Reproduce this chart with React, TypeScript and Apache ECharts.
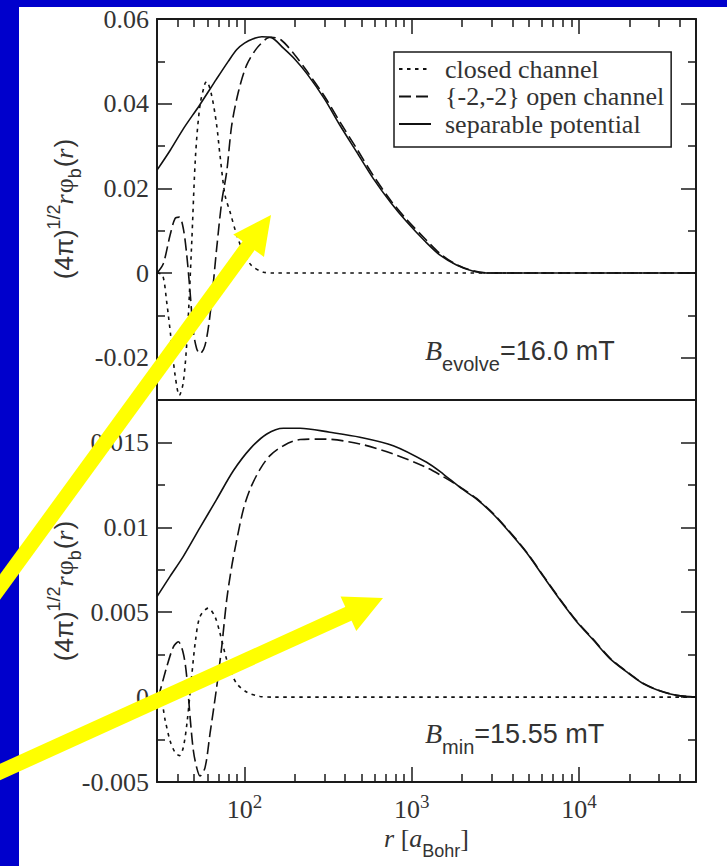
import React, { useEffect, useRef } from "react";
import * as echarts from "echarts";

// ---------- data (r in Bohr radii, values of (4pi)^1/2 r phi_b(r)) ----------
const seriesNames = ["closed channel", "{-2,-2} open channel", "separable potential"];

// top panel: B_evolve = 16.0 mT
const rClosedTop = [30, 32.4, 34.3, 36.2, 38.5, 40.8, 43.1, 45.5, 48.3, 51.0, 54.2, 58.1, 59.4, 63.6, 68.2, 71.4, 76.5, 82, 90, 98.5, 110, 130, 150, 50000];
const vClosedTop = [0.0, -0.0005, -0.0069, -0.0147, -0.0242, -0.0289, -0.0258, -0.0147, 0.0065, 0.0278, 0.0396, 0.0448, 0.0452, 0.042, 0.0349, 0.0278, 0.0184, 0.0144, 0.0089, 0.005, 0.0018, 0.0002, 0.0, 0.0];

const rOpenTop = [30, 32.7, 35.9, 38.5, 40.8, 43.1, 45.2, 47.3, 49.5, 51.8, 54.2, 58.1, 62.2, 68.2, 73.1, 78.3, 83.9, 92, 103, 118, 136, 145, 165, 200, 236, 300, 372, 470, 589, 750, 933, 1200, 1476, 1850, 2335, 2900, 50000];
const vOpenTop = [0.0, 0.0022, 0.0089, 0.0129, 0.0132, 0.0105, 0.0042, -0.0045, -0.0139, -0.0179, -0.0191, -0.0171, -0.01, 0.0058, 0.0168, 0.0239, 0.0349, 0.0428, 0.0491, 0.053, 0.0554, 0.0557, 0.0551, 0.0515, 0.0477, 0.0418, 0.0357, 0.0293, 0.023, 0.0171, 0.0126, 0.0081, 0.0046, 0.002, 0.0005, 0.0, 0.0];

const rSepTop = [30, 36, 43, 54, 68, 80, 90, 100, 112, 127, 145, 171, 200, 236, 300, 372, 470, 589, 750, 933, 1200, 1476, 1850, 2335, 2800, 50000];
const vSepTop = [0.0243, 0.0290, 0.0340, 0.0397, 0.0458, 0.0500, 0.0528, 0.0543, 0.0553, 0.0558, 0.0556, 0.0531, 0.0505, 0.0471, 0.0412, 0.0349, 0.0285, 0.0223, 0.0166, 0.0121, 0.0075, 0.0042, 0.0019, 0.0004, 0.0, 0.0];

// bottom panel: B_min = 15.55 mT
const rClosedBot = [30, 31.3, 33.6, 35.9, 38.5, 40.8, 43.1, 45.5, 48.3, 51.0, 54.2, 60.8, 66.6, 71.4, 76.5, 82, 90, 103, 124, 150, 50000];
const vClosedBot = [0.0, 0.0, -0.00138, -0.00257, -0.00326, -0.00345, -0.00296, -0.00138, 0.00118, 0.00336, 0.00474, 0.00524, 0.00474, 0.00376, 0.00257, 0.00158, 0.00079, 0.0003, 0.00004, 0.0, 0.0];

const rOpenBot = [30, 30.7, 34.3, 37.6, 40.2, 43.1, 45.2, 47.3, 49.5, 51.8, 54.2, 58.1, 62.2, 68.2, 73.1, 78.3, 83.9, 90, 98.5, 108, 124, 142, 171, 215, 300, 490, 775, 1227, 1543, 1941, 2441, 3071, 3864, 4860, 6110, 7690, 9680, 12170, 15300, 19270, 24230, 30480, 38300, 50000];
const vOpenBot = [0.0, 0.0001, 0.00178, 0.00296, 0.00326, 0.00257, 0.00118, -0.00118, -0.00316, -0.00415, -0.00464, -0.00415, -0.00217, 0.00059, 0.00296, 0.00573, 0.0077, 0.00928, 0.01106, 0.01225, 0.01343, 0.01422, 0.01481, 0.01517, 0.0152, 0.01491, 0.01432, 0.01352, 0.01298, 0.01238, 0.0117, 0.01081, 0.00972, 0.00854, 0.00715, 0.00577, 0.00448, 0.0034, 0.0023, 0.00151, 0.00081, 0.00038, 0.00011, 0.0];

const rSepBot = [30, 35.9, 43.1, 54.2, 68.2, 85.8, 108, 136, 171, 215, 324, 490, 775, 1227, 1543, 1941, 2441, 3071, 3864, 4860, 6110, 7690, 9680, 12170, 15300, 19270, 24230, 30480, 38300, 50000];
const vSepBot = [0.00592, 0.00711, 0.00829, 0.00998, 0.01165, 0.01333, 0.01462, 0.0155, 0.01584, 0.01584, 0.0156, 0.01531, 0.01481, 0.01383, 0.01314, 0.01235, 0.01166, 0.01077, 0.00968, 0.0085, 0.00711, 0.00573, 0.00444, 0.00336, 0.00227, 0.00148, 0.00079, 0.00036, 0.0001, 0.0];

// axes
const xRange = [30, 50000];
const xMajorTicks = [100, 1000, 10000];
const xMinorTicks = [40, 50, 60, 70, 80, 90, 200, 300, 400, 500, 600, 700, 800, 900, 2000, 3000, 4000, 5000, 6000, 7000, 8000, 9000, 20000, 30000, 40000];
const yTopRange = [-0.03, 0.06];
const yTopMajor = [-0.02, 0, 0.02, 0.04, 0.06];
const yTopMinor = [-0.01, 0.01, 0.03, 0.05];
const yBotRange = [-0.005, 0.0175];
const yBotMajor = [-0.005, 0, 0.005, 0.01, 0.015];
const yBotMinor = [-0.0025, 0.0025, 0.0075, 0.0125];

const annTop = "=16.0 mT";
const annTopSub = "evolve";
const annBot = "=15.55 mT";
const annBotSub = "min";

// ---------- styling ----------
const SERIF = "'Liberation Serif', 'Times New Roman', serif";
const SANS = "'Liberation Sans', Arial, sans-serif";
const TXT = "#333";
const FRAME = "#1a1a1a";
const YELLOW = "#ffff00";

const lg = (v: number) => Math.log10(v);
const LOGMIN = lg(xRange[0]);
const LOGMAX = lg(xRange[1]);
const pts = (r: number[], v: number[]) => r.map((x, i) => [lg(x), v[i]]);

const lineTypes: any[] = [[3.5, 4.5], [12, 5], "solid"];

function xAxis(grid: number, pos: string, kind: "line" | "major" | "minor" | "majorLabel") {
  const ax: any = {
    type: "value",
    gridIndex: grid,
    position: pos,
    min: LOGMIN,
    max: LOGMAX,
    splitLine: { show: false },
    axisLine: { show: kind !== "minor", onZero: false, lineStyle: { color: FRAME, width: 2 } },
    axisTick: { show: false },
    axisLabel: { show: false },
  };
  if (kind === "major" || kind === "majorLabel") {
    ax.axisTick = { show: true, inside: true, length: 15, customValues: xMajorTicks.map(lg), lineStyle: { color: FRAME, width: 1.5 } };
  }
  if (kind === "minor") {
    ax.axisTick = { show: true, inside: true, length: 8, customValues: xMinorTicks.map(lg), lineStyle: { color: FRAME, width: 1.5 } };
  }
  if (kind === "majorLabel") {
    ax.axisLabel = {
      show: true,
      margin: 10,
      customValues: xMajorTicks.map(lg),
      formatter: (v: number) => `{b|10}{s|${Math.round(v)}}`,
      rich: {
        b: { fontFamily: SERIF, fontSize: 26, lineHeight: 26, padding: [4, 0, 0, 0], verticalAlign: "top", color: TXT },
        s: { fontFamily: SERIF, fontSize: 19, lineHeight: 19, verticalAlign: "top", color: TXT },
      },
    };
    ax.name = "{ri|r}{t| [}{ri|a}{sub|Bohr}{t|]}";
    ax.nameLocation = "middle";
    ax.nameGap = 43;
    ax.nameTextStyle = {
      rich: {
        ri: { fontFamily: SERIF, fontStyle: "italic", fontSize: 26, lineHeight: 26, verticalAlign: "top", color: TXT },
        t: { fontFamily: SERIF, fontSize: 26, lineHeight: 26, verticalAlign: "top", color: TXT },
        sub: { fontFamily: SANS, fontSize: 18, lineHeight: 18, padding: [17, 0, 0, 0], verticalAlign: "top", color: TXT },
      },
    };
  }
  return ax;
}

function yAxis(grid: number, pos: string, range: number[], ticks: number[], major: boolean, labels: boolean) {
  const ax: any = {
    type: "value",
    gridIndex: grid,
    position: pos,
    min: range[0],
    max: range[1],
    splitLine: { show: false },
    axisLine: { show: major, onZero: false, lineStyle: { color: FRAME, width: 2 } },
    axisTick: { show: true, inside: true, length: major ? 15 : 8, customValues: ticks, lineStyle: { color: FRAME, width: 1.5 } },
    axisLabel: { show: false },
  };
  if (labels) {
    ax.axisLabel = {
      show: true,
      margin: 8,
      customValues: ticks,
      fontFamily: SERIF,
      fontSize: 26,
      color: TXT,
      formatter: (v: number) => String(parseFloat(Number(v).toFixed(5))),
    };
  }
  return ax;
}

function yName(yc: number) {
  return {
    type: "text",
    x: 45,
    y: yc,
    rotation: Math.PI / 2,
    z: 50,
    style: {
      text: "{p|(4π)}{sup|1/2}{ri|r}{ph|φ}{sub|b}{p|(}{ri|r}{p|)}",
      align: "center",
      verticalAlign: "top",
      rich: {
        sup: { fontFamily: SANS, fontSize: 18, lineHeight: 18, verticalAlign: "top", fill: TXT, color: TXT },
        p: { fontFamily: SANS, fontSize: 26, lineHeight: 26, padding: [6, 0, 0, 0], verticalAlign: "top", fill: TXT, color: TXT },
        ri: { fontFamily: SERIF, fontStyle: "italic", fontSize: 26, lineHeight: 26, padding: [6, 1, 0, 0], verticalAlign: "top", fill: TXT, color: TXT },
        ph: { fontFamily: SERIF, fontSize: 26, lineHeight: 26, padding: [6, 0, 0, 0], verticalAlign: "top", fill: TXT, color: TXT },
        sub: { fontFamily: SANS, fontSize: 18, lineHeight: 18, padding: [21, 1, 0, 0], verticalAlign: "top", fill: TXT, color: TXT },
      },
    },
  };
}

function annotation(x: number, y: number, sub: string, rest: string) {
  return {
    type: "text",
    x,
    y,
    z: 50,
    style: {
      text: `{B|B}{sub|${sub}}{t|${rest}}`,
      align: "left",
      verticalAlign: "top",
      rich: {
        B: { fontFamily: SERIF, fontStyle: "italic", fontSize: 28, lineHeight: 28, verticalAlign: "top", fill: TXT, color: TXT },
        sub: { fontFamily: SANS, fontSize: 20, lineHeight: 20, padding: [17, 0, 0, 0], verticalAlign: "top", fill: TXT, color: TXT },
        t: { fontFamily: SANS, fontSize: 27, lineHeight: 27, padding: [0.5, 0, 0, 0], verticalAlign: "top", fill: TXT, color: TXT },
      },
    },
  };
}

function arrow(tail: number[], tip: number[], headLen: number, headHalf: number, width: number) {
  const dx = tip[0] - tail[0];
  const dy = tip[1] - tail[1];
  const L = Math.hypot(dx, dy);
  const ux = dx / L, uy = dy / L;
  const nx = -uy, ny = ux;
  const bx = tip[0] - ux * headLen, by = tip[1] - uy * headLen;
  return [
    {
      type: "line",
      z: 100,
      shape: { x1: tail[0], y1: tail[1], x2: bx + ux * 4, y2: by + uy * 4 },
      style: { stroke: YELLOW, lineWidth: width },
    },
    {
      type: "polygon",
      z: 101,
      shape: { points: [tip, [bx + nx * headHalf, by + ny * headHalf], [bx - nx * headHalf, by - ny * headHalf]] },
      style: { fill: YELLOW },
    },
  ];
}

export default function App() {
  const ref = useRef<HTMLDivElement>(null);
  useEffect(() => {
    if (!ref.current) return;
    const chart = echarts.init(ref.current, null, { renderer: "svg" });

    const mkSeries = (name: string, data: number[][], xi: number, yi: number, k: number) => ({
      name,
      type: "line",
      xAxisIndex: xi,
      yAxisIndex: yi,
      data,
      symbol: "none",
      smooth: 0.3,
      clip: true,
      lineStyle: { color: "#111", width: 1.6, type: lineTypes[k] },
      itemStyle: { color: "#111" },
      z: 3,
    });

    chart.setOption({
      animation: false,
      backgroundColor: "transparent",
      grid: [
        { left: 157, top: 19, width: 539, height: 381, outerBoundsMode: "none", containLabel: false },
        { left: 157, top: 400, width: 539, height: 382, outerBoundsMode: "none", containLabel: false },
      ],
      legend: {
        orient: "vertical",
        left: 394,
        top: 52,
        itemWidth: 32,
        itemHeight: 12,
        itemGap: 1.5,
        padding: [4, 7, 10, 4],
        borderColor: FRAME,
        borderWidth: 1.5,
        backgroundColor: "#fff",
        selectedMode: false,
        itemStyle: { opacity: 0 },
        textStyle: { fontFamily: SERIF, fontSize: 26, color: TXT, padding: [0, 0, 0, 9] },
        data: seriesNames,
      },
      xAxis: [
        xAxis(0, "bottom", "line"), // 0 top panel main
        xAxis(0, "top", "major"), // 1
        xAxis(0, "top", "minor"), // 2
        xAxis(1, "bottom", "majorLabel"), // 3 bottom panel main
        xAxis(1, "bottom", "minor"), // 4
      ],
      yAxis: [
        yAxis(0, "left", yTopRange, yTopMajor, true, true), // 0
        yAxis(0, "left", yTopRange, yTopMinor, false, false), // 1
        yAxis(0, "right", yTopRange, yTopMajor, true, false), // 2
        yAxis(0, "right", yTopRange, yTopMinor, false, false), // 3
        yAxis(1, "left", yBotRange, yBotMajor, true, true), // 4
        yAxis(1, "left", yBotRange, yBotMinor, false, false), // 5
        yAxis(1, "right", yBotRange, yBotMajor, true, false), // 6
        yAxis(1, "right", yBotRange, yBotMinor, false, false), // 7
      ],
      series: [
        mkSeries(seriesNames[0], pts(rClosedTop, vClosedTop), 0, 0, 0),
        mkSeries(seriesNames[1], pts(rOpenTop, vOpenTop), 0, 0, 1),
        mkSeries(seriesNames[2], pts(rSepTop, vSepTop), 0, 0, 2),
        mkSeries(seriesNames[0], pts(rClosedBot, vClosedBot), 3, 4, 0),
        mkSeries(seriesNames[1], pts(rOpenBot, vOpenBot), 3, 4, 1),
        mkSeries(seriesNames[2], pts(rSepBot, vSepBot), 3, 4, 2),
      ],
      graphic: [
        yName(209),
        yName(591),
        annotation(425, 336.5, annTopSub, annTop),
        annotation(425, 719.5, annBotSub, annBot),
        ...arrow([-12, 603.5], [271, 215], 38, 19, 15),
        ...arrow([-12, 777.5], [383, 598], 38, 19, 15),
      ],
    });
    return () => chart.dispose();
  }, []);

  return (
    <div style={{ position: "fixed", left: 0, top: 0, width: 727, height: 866, background: "#0000cc", overflow: "hidden" }}>
      <div style={{ position: "absolute", left: 19, top: 7, width: 708, height: 859, background: "#ffffff" }} />
      <div ref={ref} style={{ position: "absolute", left: 0, top: 0, width: 727, height: 866 }} />
    </div>
  );
}
